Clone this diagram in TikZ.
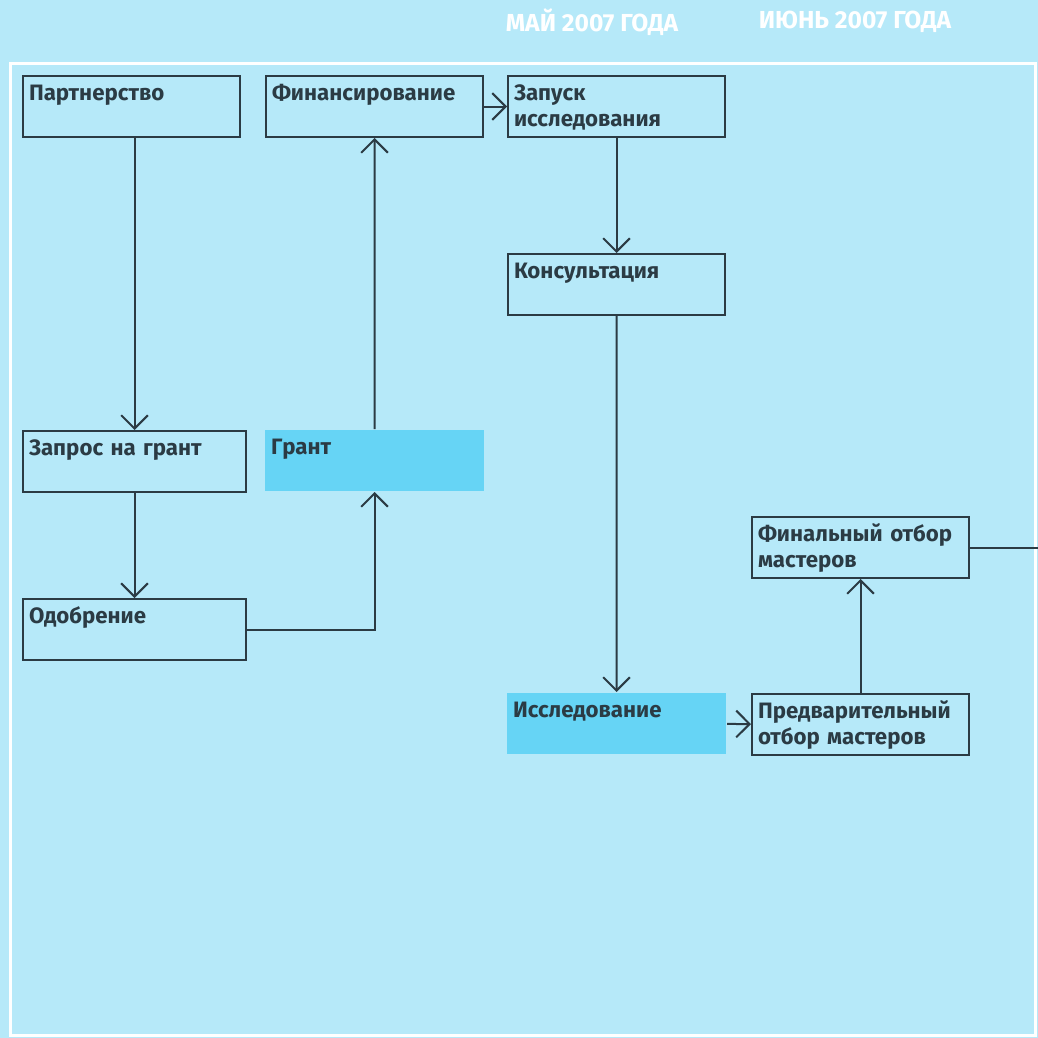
\documentclass[tikz,border=0pt]{standalone}
\usepackage{fontspec}
\setmainfont{Fira Sans}
\usetikzlibrary{arrows.meta}

\definecolor{bgblue}{HTML}{B6E9F9}
\definecolor{grantblue}{HTML}{66D4F5}
\definecolor{inkgray}{HTML}{2B3B44}

\tikzset{
  stepbox/.style={draw=inkgray, line width=0.06cm, anchor=north west, align=left,
    text width=6.15cm, inner xsep=0.18cm, inner ysep=0.3cm,
    text height=0.42cm, text depth=0.81cm, text=inkgray,
    font=\fontsize{19}{23}\selectfont\bfseries},
  fillbox/.style={stepbox, draw=none, fill=grantblue},
  flow/.style={draw=inkgray, line width=0.06cm, -{Straight Barb[length=0.4cm,width=0.8cm]}},
  plainline/.style={draw=inkgray, line width=0.06cm},
  month/.style={text=white, font=\fontsize{21}{23}\selectfont\bfseries}
}

\begin{document}
\begin{tikzpicture}[x=0.03cm, y=-0.03cm]
    % 背景和边框
    \fill[bgblue] (0,0) rectangle (1038,1038);
    \useasboundingbox (0,0) rectangle (1038,1038);
    \draw[white, line width=0.09cm] (10,64) rectangle (1035,1035);

    % 上方标签
    \node[month] (may) at (592,22) {МАЙ 2007 ГОДА};
    \node[month] (june) at (855,22) {ИЮНЬ 2007 ГОДА};

    % 左侧
    \node[stepbox] (partner) at (22,75) {Партнерство};
    \node[stepbox, text width=6.33cm] (request) at (22,430) {Запрос на грант};
    \node[stepbox, text width=6.33cm] (approve) at (22,598) {Одобрение};

    % 中间
    \node[stepbox] (finance) at (265,75) {Финансирование};
    \node[fillbox, text width=6.21cm] (grant) at (264,429) {Грант};

    % 右侧
    \node[stepbox] (launch) at (507,75) {Запуск\\исследования};
    \node[stepbox] (consult) at (507,253) {Консультация};
    \node[fillbox, text width=6.21cm] (research) at (506,692) {Исследование};
    \node[stepbox] (preselect) at (751,693) {Предварительный\\отбор мастеров};
    \node[stepbox] (final) at (751,516) {Финальный отбор\\мастеров};
    \coordinate (edge) at (1038,0);

    % 箭头
    \draw[flow] (request.north |- partner.south) -- (request.north);
    \draw[flow] (request) -- (approve);
    \draw[flow] (approve.east) -| (grant.south);
    \draw[flow] (grant) -- (finance);
    \draw[flow] (finance) -- (launch);
    \draw[flow] (launch) -- (consult);
    \draw[flow] (consult) -- (research);
    \draw[flow] (research) -- (preselect);
    \draw[flow] (preselect) -- (final);
    \draw[plainline] (final.east) -- (final.east -| edge);
\end{tikzpicture}
\end{document}
